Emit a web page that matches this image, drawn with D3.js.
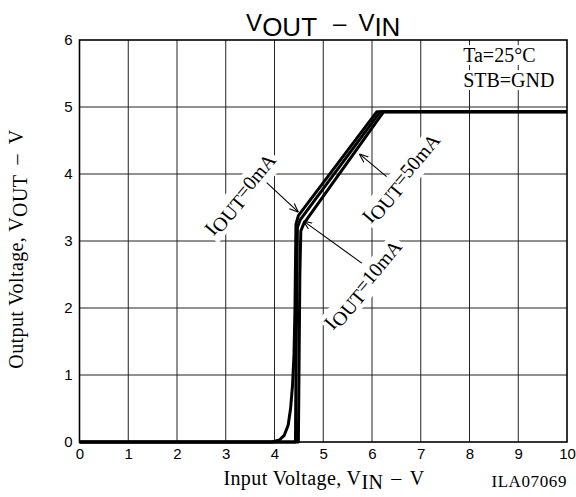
<!DOCTYPE html>
<html>
<head>
<meta charset="utf-8">
<script src="https://cdn.jsdelivr.net/npm/d3@7"></script>
<style>
  html, body { margin: 0; padding: 0; background: #fff; }
  svg { display: block; }
</style>
</head>
<body>
<svg id="chart" width="576" height="497"></svg>
<script>
// Axis ticks
const xTicks = [0, 1, 2, 3, 4, 5, 6, 7, 8, 9, 10];
const yTicks = [0, 1, 2, 3, 4, 5, 6];

// Output voltage vs input voltage, one series per load current
const vinOut0mA = [
  [0, 0], [3.95, 0], [4.1, 0.03], [4.2, 0.1], [4.28, 0.25], [4.33, 0.5],
  [4.37, 0.85], [4.40, 1.3], [4.42, 2.0], [4.44, 3.25], [4.49, 3.38],
  [6.10, 4.93], [10, 4.93]
];
const vinOut10mA = [
  [0, 0], [4.43, 0], [4.44, 1.0], [4.47, 3.2], [4.53, 3.32],
  [6.17, 4.93], [10, 4.93]
];
const vinOut50mA = [
  [0, 0], [4.49, 0], [4.52, 2.5], [4.54, 3.15], [4.60, 3.26],
  [6.24, 4.93], [10, 4.93]
];
const series = [vinOut0mA, vinOut10mA, vinOut50mA];

// Curve callouts: label centre, arrow tail and arrow tip (data units)
const callouts = [
  { sub: "OUT", rest: "=0mA",  at: [3.29, 3.70], from: [3.84, 3.87], to: [4.49, 3.43] },
  { sub: "OUT", rest: "=10mA", at: [5.81, 2.35], from: [5.79, 2.67], to: [4.59, 3.30] },
  { sub: "OUT", rest: "=50mA", at: [6.59, 3.94], from: [6.30, 3.96], to: [5.74, 4.30] }
];

const conditions = ["Ta=25°C", "STB=GND"];

const svg = d3.select("#chart");
const serif = "'Liberation Serif', 'Times New Roman', serif";
const sans = "'Liberation Sans', Arial, Helvetica, sans-serif";

const x = d3.scaleLinear().domain([0, 10]).range([79.5, 567]);
const y = d3.scaleLinear().domain([0, 6]).range([442, 40]);

// Grid
const grid = svg.append("g").attr("stroke", "#222").attr("stroke-width", 1);
grid.selectAll("line.v").data(xTicks.slice(1, -1)).join("line")
  .attr("x1", d => x(d)).attr("x2", d => x(d))
  .attr("y1", y(0)).attr("y2", y(6));
grid.selectAll("line.h").data(yTicks.slice(1, -1)).join("line")
  .attr("x1", x(0)).attr("x2", x(10))
  .attr("y1", d => y(d)).attr("y2", d => y(d));

// Axes (tick labels only, frame drawn separately)
const xAxis = svg.append("g")
  .attr("transform", `translate(0,${y(0)})`)
  .call(d3.axisBottom(x).tickValues(xTicks).tickFormat(d3.format("d")).tickSize(0).tickPadding(6));
const yAxis = svg.append("g")
  .attr("transform", `translate(${x(0)},0)`)
  .call(d3.axisLeft(y).tickValues(yTicks).tickFormat(d3.format("d")).tickSize(0).tickPadding(7));
[xAxis, yAxis].forEach(a => {
  a.select(".domain").remove();
  a.selectAll("text").attr("font-family", sans).attr("font-size", 15).attr("fill", "#000");
});

// Frame
svg.append("rect")
  .attr("x", x(0)).attr("y", y(6))
  .attr("width", x(10) - x(0)).attr("height", y(0) - y(6))
  .attr("fill", "none").attr("stroke", "#000").attr("stroke-width", 1.6);

// White knock-out behind a text element
function knockout(g, pad) {
  const t = g.select("text").node();
  const b = t.getBBox();
  g.insert("rect", "text")
    .attr("x", b.x - pad).attr("y", b.y - pad + 2)
    .attr("width", b.width + 2 * pad).attr("height", b.height + 2 * pad - 4)
    .attr("fill", "#fff");
}

// Conditions box
conditions.forEach((c, i) => {
  const g = svg.append("g");
  g.append("text")
    .attr("x", x(7.87)).attr("y", y(5.67) + i * 25)
    .attr("text-anchor", "start")
    .attr("font-family", serif).attr("font-size", 20)
    .text(c);
  knockout(g, 1);
});

// Curve callouts
const angle = -50;
callouts.forEach(c => {
  const g = svg.append("g")
    .attr("transform", `translate(${x(c.at[0])},${y(c.at[1])}) rotate(${angle})`);
  const t = g.append("text")
    .attr("text-anchor", "middle").attr("dy", "0.35em")
    .attr("font-family", serif).attr("font-size", 20);
  t.append("tspan").text("I");
  t.append("tspan").attr("dy", 4).text(c.sub);
  t.append("tspan").attr("dy", -4).text(c.rest);
  knockout(g, 2);
});

// Series
const line = d3.line().x(d => x(d[0])).y(d => y(d[1]));
svg.append("g").selectAll("path").data(series).join("path")
  .attr("d", line)
  .attr("fill", "none").attr("stroke", "#000")
  .attr("stroke-width", 3).attr("stroke-linejoin", "round");

// Arrows
svg.append("defs").append("marker")
  .attr("id", "head").attr("viewBox", "0 0 10 10")
  .attr("refX", 10).attr("refY", 5)
  .attr("markerWidth", 9).attr("markerHeight", 9)
  .attr("markerUnits", "userSpaceOnUse")
  .attr("orient", "auto")
  .append("path").attr("d", "M0,1 L10,5 L0,9").attr("fill", "none")
  .attr("stroke", "#000").attr("stroke-width", 1.2);
svg.append("g").selectAll("line").data(callouts).join("line")
  .attr("x1", d => x(d.from[0])).attr("y1", d => y(d.from[1]))
  .attr("x2", d => x(d.to[0])).attr("y2", d => y(d.to[1]))
  .attr("stroke", "#000").attr("stroke-width", 1.1)
  .attr("marker-end", "url(#head)");

// Title
const title = svg.append("text")
  .attr("x", (x(0) + x(10)) / 2).attr("y", 31)
  .attr("text-anchor", "middle")
  .attr("font-family", sans).attr("font-size", 24);
title.append("tspan").text("V");
title.append("tspan").attr("dy", 5).attr("font-size", 26).text("OUT");
title.append("tspan").attr("dy", -5).attr("dx", 16).text("–");
title.append("tspan").attr("dx", 12).text("V");
title.append("tspan").attr("dy", 5).attr("font-size", 26).text("IN");

// Axis titles
const xt = svg.append("text")
  .attr("x", 324).attr("y", 485)
  .attr("text-anchor", "middle")
  .attr("font-family", serif).attr("font-size", 20)
  .attr("letter-spacing", 0.4);
xt.append("tspan").text("Input Voltage, V");
xt.append("tspan").attr("dy", 4).text("IN");
xt.append("tspan").attr("dy", -4).attr("dx", 8).text("–");
xt.append("tspan").attr("dx", 8).text("V");

const yt = svg.append("text")
  .attr("transform", `translate(23,249) rotate(-90)`)
  .attr("text-anchor", "middle")
  .attr("font-family", serif).attr("font-size", 20)
  .attr("letter-spacing", 0.4);
yt.append("tspan").text("Output Voltage, V");
yt.append("tspan").attr("dy", 4).text("OUT");
yt.append("tspan").attr("dy", -4).attr("dx", 10).text("–");
yt.append("tspan").attr("dx", 10).text("V");

svg.append("text")
  .attr("x", x(10)).attr("y", 487)
  .attr("text-anchor", "end")
  .attr("font-family", serif).attr("font-size", 17)
  .attr("letter-spacing", 0.6)
  .text("ILA07069");
</script>
</body>
</html>
